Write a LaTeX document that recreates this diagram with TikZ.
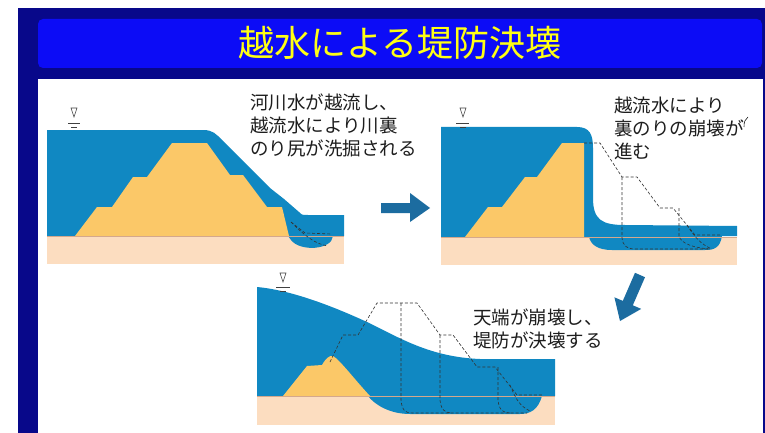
\documentclass[tikz,border=0pt]{standalone}
\usepackage{fontspec}
\setmainfont{Noto Sans CJK JP}
\definecolor{navyframe}{RGB}{8,8,138}
\definecolor{titlebar}{RGB}{12,12,246}
\definecolor{titletext}{RGB}{255,255,20}
\definecolor{waterblue}{RGB}{16,136,194}
\definecolor{soil}{RGB}{251,200,104}
\definecolor{groundfill}{RGB}{252,221,192}
\definecolor{groundedge}{RGB}{212,168,140}
\definecolor{stepblue}{RGB}{28,108,160}
\definecolor{inktext}{RGB}{30,30,30}
\begin{document}
\begin{tikzpicture}[x=1pt,y=-1pt,
  water/.style={fill=waterblue},
  levee/.style={fill=soil},
  ground/.style={fill=groundfill},
  groundline/.style={draw=groundedge,line width=0.8pt},
  oldprofile/.style={draw=black!80,densely dashed,line width=0.6pt},
  flowarrow/.style={fill=stepblue},
  caption/.style={anchor=north west,inner sep=0pt,align=left,text=inktext,
    font=\fontsize{18.5}{23}\selectfont},
  levelmark/.style={draw=black!75,line width=0.6pt}]
\useasboundingbox (0,0) rectangle (765,433);
\fill[white] (0,0) rectangle (765,433);

% slide frame and title bar
\fill[navyframe] (18,8) rectangle (765,433);
\fill[titlebar,rounded corners=5pt] (38,19) rectangle (762,68);
\fill[white] (38,79) rectangle (763,433);
\node[text=titletext,font=\fontsize{36}{40}\selectfont] (title) at (400,43) {越水による堤防決壊};

% ---------- stage 1: overflow scours the toe ----------
\fill[ground] (47,236) rectangle (344,264);
\fill[water] (47,236) -- (47,130) -- (203,130)
  .. controls (213,130) and (216,134) .. (222,140)
  -- (270,188) -- (284,199) -- (299,212)
  .. controls (302,215) .. (308,215) -- (344,215) -- (344,236) -- (333,236)
  .. controls (332,250) and (300,252) .. (291,240) -- (288,236) -- cycle;
\fill[levee] (75,236) -- (97,207) -- (112,207) -- (133,177) -- (147,177)
  -- (172,143) -- (207,143) -- (230,175) -- (243,175) -- (267,207)
  -- (282,207) -- (289,236) -- cycle;
\draw[groundline] (47,236) -- (344,236);
\draw[oldprofile] (291,222) .. controls (298,228) .. (305,233) -- (331,234);
\draw[oldprofile] (291,222) .. controls (305,236) and (315,244) .. (328,246);
\draw[levelmark] (71,108) -- (77,108) -- (74,117) -- cycle;
\draw[levelmark] (68,123) -- (80,123);
\draw[levelmark] (71,127) -- (77,127);
\node[caption] (cap1) at (250,94) {河川水が越流し、\\越流水により川裏\\のり尻が洗掘される};

% arrow to stage 2
\fill[flowarrow] (381,203) -- (410,203) -- (410,193) -- (430,208)
  -- (410,222) -- (410,213) -- (381,213) -- cycle;

% ---------- stage 2: back slope collapses ----------
\fill[ground] (441,237) rectangle (737,265);
\fill[water] (441,237) -- (441,127) -- (577,127)
  .. controls (590,127) and (593,135) .. (593,148) -- (593,198)
  .. controls (593,220) and (602,225) .. (625,225) -- (737,226) -- (737,236)
  -- (722,236) .. controls (720,248) and (714,250) .. (705,250) -- (612,250)
  .. controls (598,250) and (591,245) .. (589,237) -- cycle;
\fill[levee] (465,237) -- (488,207) -- (502,207) -- (525,177) -- (537,177)
  -- (562,143) -- (584,143) -- (584,237) -- cycle;
\draw[groundline] (441,237) -- (737,237);
\draw[oldprofile] (584,143) -- (600,143) -- (622,177) -- (637,177)
  -- (660,208) -- (673,208) -- (695,235) -- (722,235);
\draw[oldprofile] (622,177) -- (622,238) .. controls (623,246) and (627,249) .. (635,249) -- (710,249);
\draw[oldprofile] (679,208) -- (679,236) .. controls (681,244) and (695,248) .. (710,249);
\draw[oldprofile] (687,225) .. controls (695,238) and (702,245) .. (712,249);
\draw[levelmark] (460,108) -- (466,108) -- (463,117) -- cycle;
\draw[levelmark] (456,123) -- (469,123);
\draw[levelmark] (460,127) -- (466,127);
\node[caption] (cap2) at (614,97) {越流水により\\裏のりの崩壊が\\進む};
\draw[inktext,line width=0.6pt] (744,127) .. controls (744,122) and (745,119) .. (748,117);
\draw[inktext,line width=0.6pt] (742,120) -- (743,122);

% arrow to stage 3
\fill[flowarrow] (635.0,272.8) -- (622.8,300.9) -- (614.4,297.3) -- (620,321)
  -- (641.2,308.9) -- (632.8,305.3) -- (645.0,277.2) -- cycle;

% ---------- stage 3: crest fails, levee breaches ----------
\fill[ground] (257,396) rectangle (555,425);
\fill[water] (257,396) -- (257,287)
  .. controls (290,290) and (330,305) .. (367,322)
  .. controls (400,338) and (430,357) .. (480,359) -- (555,359) -- (555,396)
  -- (542,396) .. controls (538,410) and (530,414) .. (520,414) -- (410,414)
  .. controls (390,414) and (375,405) .. (368,396) -- cycle;
\fill[levee] (283,396) -- (307,366) -- (322,365)
  .. controls (326,358) and (330,355) .. (333,356)
  .. controls (340,360) and (355,380) .. (370,396) -- cycle;
\draw[groundline] (257,396) -- (555,396);
\draw[oldprofile] (330,362) -- (343,335) -- (358,335) -- (377,303) -- (417,303)
  -- (440,335) -- (453,335) -- (477,367) -- (495,367) -- (517,395) -- (542,395);
\draw[oldprofile] (401,303) -- (401,400) .. controls (402,410) and (405,413) .. (412,413) -- (527,413);
\draw[oldprofile] (440,335) -- (440,400) .. controls (441,410) and (445,413) .. (452,413);
\draw[oldprofile] (498,367) -- (498,400) .. controls (499,410) and (503,413) .. (510,413);
\draw[oldprofile] (510,385) .. controls (516,400) and (520,406) .. (530,411);
\draw[levelmark] (280,273) -- (286,273) -- (283,282) -- cycle;
\draw[levelmark] (276,287) -- (290,287);
\draw[levelmark] (280,291) -- (286,291);
\node[caption] (cap3) at (473,309) {天端が崩壊し、\\堤防が決壊する};
\end{tikzpicture}
\end{document}
